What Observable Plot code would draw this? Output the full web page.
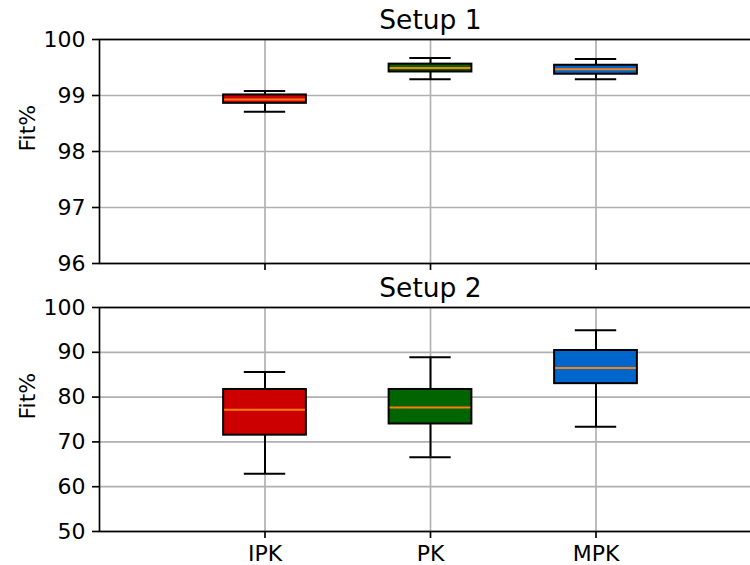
<!DOCTYPE html>
<html>
<head>
<meta charset="utf-8">
<script src="https://cdn.jsdelivr.net/npm/d3@7"></script>
<script src="https://cdn.jsdelivr.net/npm/@observablehq/plot@0.6"></script>
<style>
  html, body { margin: 0; padding: 0; background: #fff; width: 750px; height: 565px; overflow: hidden; }
  #wrap { position: relative; width: 750px; height: 565px; overflow: hidden; }
  #wrap svg { display: block; max-width: none !important; height: auto; }
</style>
</head>
<body>
<div id="wrap"></div>
<script>
// ---- data ----
const categories = ["IPK", "PK", "MPK"];
const positions = [1, 2, 3];
const colors = ["#cc0000", "#006400", "#0066cc"];

// Setup 1 box statistics
const s1WhisLo = [98.71, 99.29, 99.29];
const s1Q1     = [98.86, 99.42, 99.38];
const s1Med    = [98.93, 99.49, 99.47];
const s1Q3     = [99.01, 99.56, 99.54];
const s1WhisHi = [99.08, 99.67, 99.65];

// Setup 2 box statistics
const s2WhisLo = [62.9, 66.6, 73.4];
const s2Q1     = [71.5, 74.0, 83.0];
const s2Med    = [77.2, 77.7, 86.5];
const s2Q3     = [81.7, 81.7, 90.4];
const s2WhisHi = [85.6, 88.9, 94.9];

const yTicks1 = [96, 97, 98, 99, 100];
const yTicks2 = [50, 60, 70, 80, 90, 100];

function build(lo, q1, med, q3, hi) {
  return categories.map((c, i) => ({
    cat: c, pos: positions[i], color: colors[i],
    lo: lo[i], q1: q1[i], med: med[i], q3: q3[i], hi: hi[i]
  }));
}

const FONT = "DejaVu Sans";
const TICKFS = 22, TITLEFS = 26.5;
const BOXW = 0.5, CAPW = 0.25;

function panel({data, title, yDomain, yTicks, height, marginTop, marginBottom, showLabels}) {
  return Plot.plot({
    width: 761,
    height,
    marginLeft: 99,
    marginRight: 0,
    marginTop,
    marginBottom,
    style: {fontFamily: FONT, fontSize: TICKFS + "px", background: "transparent", overflow: "visible", color: "#000", maxWidth: "none"},
    x: {domain: [0, 4], axis: null},
    y: {domain: yDomain, axis: null},
    marks: [
      Plot.gridY(yTicks, {stroke: "#b0b0b0", strokeOpacity: 1, strokeWidth: 1.67}),
      Plot.gridX(positions, {stroke: "#b0b0b0", strokeOpacity: 1, strokeWidth: 1.67}),
      // whiskers
      Plot.ruleX(data, {x: "pos", y1: "q3", y2: "hi", stroke: "#000", strokeWidth: 2}),
      Plot.ruleX(data, {x: "pos", y1: "lo", y2: "q1", stroke: "#000", strokeWidth: 2}),
      // caps
      Plot.ruleY(data, {y: "hi", x1: d => d.pos - CAPW / 2, x2: d => d.pos + CAPW / 2, stroke: "#000", strokeWidth: 2}),
      Plot.ruleY(data, {y: "lo", x1: d => d.pos - CAPW / 2, x2: d => d.pos + CAPW / 2, stroke: "#000", strokeWidth: 2}),
      // boxes
      Plot.rect(data, {x1: d => d.pos - BOXW / 2, x2: d => d.pos + BOXW / 2, y1: "q1", y2: "q3",
        fill: d => d.color, stroke: "#000", strokeWidth: 2}),
      // medians
      Plot.ruleY(data, {y: "med", x1: d => d.pos - BOXW / 2 + 0.006, x2: d => d.pos + BOXW / 2 - 0.006, stroke: "#ff7f0e", strokeWidth: 2}),
      Plot.frame({stroke: "#000", strokeWidth: 1.67}),
      Plot.axisY(yTicks, {tickSize: 7, tickPadding: 7, strokeWidth: 1.67, fontSize: TICKFS, label: null, tickFormat: d => String(d)}),
      Plot.axisX(positions, {tickSize: 7, tickPadding: 7, strokeWidth: 1.67, fontSize: TICKFS, label: null,
        tickFormat: showLabels ? (d => categories[positions.indexOf(d)]) : (() => "")}),
      Plot.text(["Fit%"], {frameAnchor: "left", dx: -72, rotate: -90, fontSize: TICKFS, fill: "#000"}),
      Plot.text([title], {frameAnchor: "top", lineAnchor: "middle", dy: -19, fontSize: TITLEFS, fill: "#000"})
    ]
  });
}

const wrap = document.getElementById("wrap");
wrap.appendChild(panel({
  data: build(s1WhisLo, s1Q1, s1Med, s1Q3, s1WhisHi),
  title: "Setup 1", yDomain: [96, 100], yTicks: yTicks1,
  height: 285, marginTop: 39, marginBottom: 22, showLabels: false
}));
wrap.appendChild(panel({
  data: build(s2WhisLo, s2Q1, s2Med, s2Q3, s2WhisHi),
  title: "Setup 2", yDomain: [50, 100], yTicks: yTicks2,
  height: 280, marginTop: 22, marginBottom: 34, showLabels: true
}));
</script>
</body>
</html>
